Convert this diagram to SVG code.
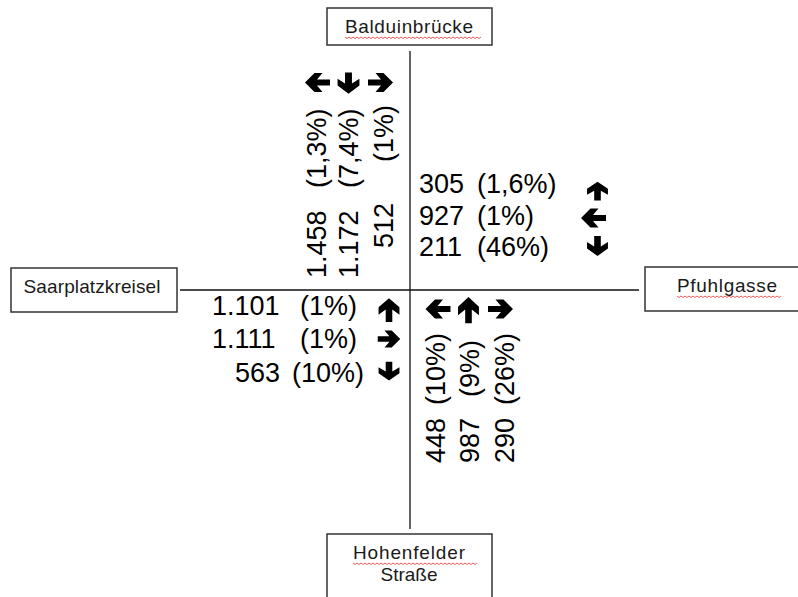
<svg xmlns="http://www.w3.org/2000/svg" width="798" height="597" viewBox="0 0 798 597">
<style>
.box{fill:#fff;stroke:#333;stroke-width:1.5}
.lbl{font-family:"Liberation Sans",Arial,sans-serif;font-size:19px;fill:#1a1a1a;text-anchor:middle}
.num{font-family:"Liberation Sans",Arial,sans-serif;font-size:27px;fill:#000}
.road{stroke:#111;stroke-width:1.3;fill:none}
.sq{stroke:#e03030;stroke-width:0.8;fill:none}
</style>
<defs>
<polygon id="arr" points="-12.5,-3 0.5,-3 -5,-9.5 3,-9.5 12.5,0 3,9.5 -5,9.5 0.5,3 -12.5,3" fill="#000"/>
</defs>
<g id="connectors">
<line class="road" x1="410" y1="51" x2="410" y2="529"/>
<line class="road" x1="180" y1="290" x2="639" y2="290"/>
</g>
<g id="balduinbruecke">
<rect class="box" x="327" y="8" width="165" height="37"/>
<text class="lbl" x="409" y="33" textLength="128" lengthAdjust="spacing">Balduinbrücke</text>
<path class="sq" d="M345 37 l2 1.5 l2 -1.5 l2 1.5 l2 -1.5 l2 1.5 l2 -1.5 l2 1.5 l2 -1.5 l2 1.5 l2 -1.5 l2 1.5 l2 -1.5 l2 1.5 l2 -1.5 l2 1.5 l2 -1.5 l2 1.5 l2 -1.5 l2 1.5 l2 -1.5 l2 1.5 l2 -1.5 l2 1.5 l2 -1.5 l2 1.5 l2 -1.5 l2 1.5 l2 -1.5 l2 1.5 l2 -1.5 l2 1.5 l2 -1.5 l2 1.5 l2 -1.5 l2 1.5 l2 -1.5 l2 1.5 l2 -1.5 l2 1.5 l2 -1.5 l2 1.5 l2 -1.5 l2 1.5 l2 -1.5 l2 1.5 l2 -1.5 l2 1.5 l2 -1.5 l2 1.5 l2 -1.5 l2 1.5 l2 -1.5 l2 1.5 l2 -1.5 l2 1.5 l2 -1.5 l2 1.5 l2 -1.5 l2 1.5 l2 -1.5 l2 1.5 l2 -1.5 l2 1.5 l2 -1.5 l2 1.5 l2 -1.5 l2 1.5 l2 -1.5"/>
</g>
<g id="saarplatzkreisel">
<rect class="box" x="11" y="268" width="166" height="44"/>
<text class="lbl" x="92" y="293" textLength="137" lengthAdjust="spacing">Saarplatzkreisel</text>
</g>
<g id="pfuhlgasse">
<rect class="box" x="645" y="267" width="160" height="44"/>
<text class="lbl" x="727" y="292" textLength="100" lengthAdjust="spacing">Pfuhlgasse</text>
<path class="sq" d="M677 296 l2 1.5 l2 -1.5 l2 1.5 l2 -1.5 l2 1.5 l2 -1.5 l2 1.5 l2 -1.5 l2 1.5 l2 -1.5 l2 1.5 l2 -1.5 l2 1.5 l2 -1.5 l2 1.5 l2 -1.5 l2 1.5 l2 -1.5 l2 1.5 l2 -1.5 l2 1.5 l2 -1.5 l2 1.5 l2 -1.5 l2 1.5 l2 -1.5 l2 1.5 l2 -1.5 l2 1.5 l2 -1.5 l2 1.5 l2 -1.5 l2 1.5 l2 -1.5 l2 1.5 l2 -1.5 l2 1.5 l2 -1.5 l2 1.5 l2 -1.5 l2 1.5 l2 -1.5 l2 1.5 l2 -1.5 l2 1.5 l2 -1.5 l2 1.5 l2 -1.5 l2 1.5 l2 -1.5 l2 1.5 l2 -1.5"/>
</g>
<g id="hohenfelder-strasse">
<rect class="box" x="327" y="534" width="165" height="80"/>
<text class="lbl" x="409" y="559" textLength="112" lengthAdjust="spacing">Hohenfelder</text>
<text class="lbl" x="409" y="581" textLength="57" lengthAdjust="spacing">Straße</text>
<path class="sq" d="M353 563 l2 1.5 l2 -1.5 l2 1.5 l2 -1.5 l2 1.5 l2 -1.5 l2 1.5 l2 -1.5 l2 1.5 l2 -1.5 l2 1.5 l2 -1.5 l2 1.5 l2 -1.5 l2 1.5 l2 -1.5 l2 1.5 l2 -1.5 l2 1.5 l2 -1.5 l2 1.5 l2 -1.5 l2 1.5 l2 -1.5 l2 1.5 l2 -1.5 l2 1.5 l2 -1.5 l2 1.5 l2 -1.5 l2 1.5 l2 -1.5 l2 1.5 l2 -1.5 l2 1.5 l2 -1.5 l2 1.5 l2 -1.5 l2 1.5 l2 -1.5 l2 1.5 l2 -1.5 l2 1.5 l2 -1.5 l2 1.5 l2 -1.5 l2 1.5 l2 -1.5 l2 1.5 l2 -1.5 l2 1.5 l2 -1.5 l2 1.5 l2 -1.5 l2 1.5 l2 -1.5 l2 1.5 l2 -1.5 l2 1.5 l2 -1.5 l2 1.5 l2 -1.5"/>
</g>
<g id="flows-north">
<use href="#arr" transform="translate(317.5,82.5) rotate(180)"/>
<use href="#arr" transform="translate(348.5,83) rotate(90) scale(0.85,1.15)"/>
<use href="#arr" transform="translate(380.5,82.5)"/>
<text class="num" transform="translate(326,278) rotate(-90)">1.458<tspan x="90">(1,3%)</tspan></text>
<text class="num" transform="translate(358,278) rotate(-90)">1.172<tspan x="90">(7,4%)</tspan></text>
<text class="num" transform="translate(393,248) rotate(-90)">512<tspan x="86">(1%)</tspan></text>
</g>
<g id="flows-east">
<text class="num" x="419" y="193">305<tspan x="477">(1,6%)</tspan></text>
<text class="num" x="419" y="225">927<tspan x="477">(1%)</tspan></text>
<text class="num" x="419" y="256">211<tspan x="477">(46%)</tspan></text>
<use href="#arr" transform="translate(597.5,191) rotate(-90) scale(0.75,1.1)"/>
<use href="#arr" transform="translate(593.5,218) rotate(180)"/>
<use href="#arr" transform="translate(597.5,246) rotate(90) scale(0.8,1.1)"/>
</g>
<g id="flows-west">
<text class="num" x="212" y="315">1.101<tspan x="300">(1%)</tspan></text>
<text class="num" x="212" y="348">1.111<tspan x="300">(1%)</tspan></text>
<text class="num" x="235" y="382">563<tspan x="292">(10%)</tspan></text>
<use href="#arr" transform="translate(389,310) rotate(-90) scale(0.95,1.1)"/>
<use href="#arr" transform="translate(389,339) scale(0.9,0.9)"/>
<use href="#arr" transform="translate(389,371) rotate(90) scale(0.75,1.1)"/>
</g>
<g id="flows-south">
<use href="#arr" transform="translate(438,309) rotate(180)"/>
<use href="#arr" transform="translate(468.5,310) rotate(-90) scale(1.05,1.1)"/>
<use href="#arr" transform="translate(500.5,309)"/>
<text class="num" transform="translate(445,463) rotate(-90)">448<tspan x="58">(10%)</tspan></text>
<text class="num" transform="translate(479,463) rotate(-90)">987<tspan x="66">(9%)</tspan></text>
<text class="num" transform="translate(514,463) rotate(-90)">290<tspan x="58">(26%)</tspan></text>
</g>
</svg>
